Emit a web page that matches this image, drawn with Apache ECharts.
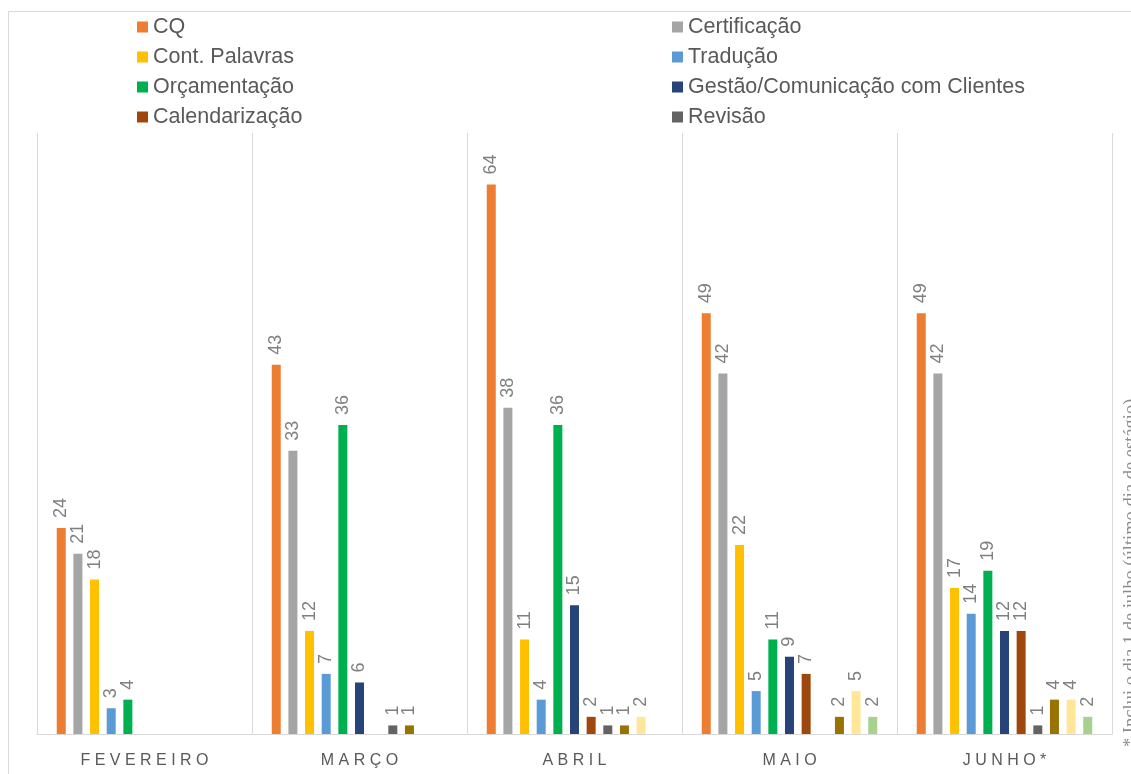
<!DOCTYPE html>
<html>
<head>
<meta charset="utf-8">
<script src="https://cdn.jsdelivr.net/npm/echarts@6/dist/echarts.min.js"></script>
<style>
  html, body { margin: 0; padding: 0; background: #fff; }
  #chart { width: 1131px; height: 774px; }
</style>
</head>
<body>
<div id="chart"></div>
<script>
// Months shown on the category axis
const months = ['FEVEREIRO', 'MARÇO', 'ABRIL', 'MAIO', 'JUNHO*'];

// Task counts per month (null = no entries that month)
const cq            = [24, 43, 64, 49, 49];
const certificacao  = [21, 33, 38, 42, 42];
const contPalavras  = [18, 12, 11, 22, 17];
const traducao      = [3, 7, 4, 5, 14];
const orcamentacao  = [4, 36, 36, 11, 19];
const gestao        = [null, 6, 15, 9, 12];
const calendarizacao= [null, null, 2, 7, 12];
const revisao       = [null, 1, 1, null, 1];
const outrosA       = [null, 1, 1, 2, 4];
const outrosB       = [null, null, 2, 5, 4];
const outrosC       = [null, null, null, 2, 2];

const seriesDefs = [
  ['CQ', cq, '#ED7D31'],
  ['Certificação', certificacao, '#A5A5A5'],
  ['Cont. Palavras', contPalavras, '#FFC000'],
  ['Tradução', traducao, '#5B9BD5'],
  ['Orçamentação', orcamentacao, '#00B050'],
  ['Gestão/Comunicação com Clientes', gestao, '#264478'],
  ['Calendarização', calendarizacao, '#9E480E'],
  ['Revisão', revisao, '#636363'],
  ['Outros A', outrosA, '#997300'],
  ['Outros B', outrosB, '#FFE699'],
  ['Outros C', outrosC, '#A9D18E']
];

const legendLeft  = ['CQ', 'Cont. Palavras', 'Orçamentação', 'Calendarização'];
const legendRight = ['Certificação', 'Tradução', 'Gestão/Comunicação com Clientes', 'Revisão'];

const footnote = '* Inclui o dia 1 de julho (último dia de estágio)';

const chart = echarts.init(document.getElementById('chart'), null, { renderer: 'canvas' });

const legendText = { fontFamily: 'Liberation Sans', fontSize: 21.5, color: '#595959' };

const legendBase = {
  orient: 'vertical', top: 16, itemGap: 8, padding: 0,
  itemWidth: 11, itemHeight: 11, icon: 'rect',
  textStyle: legendText, selectedMode: false
};

const option = {
  animation: false,
  backgroundColor: '#fff',
  legend: [
    Object.assign({ left: 137, data: legendLeft }, legendBase),
    Object.assign({ left: 672, data: legendRight }, legendBase)
  ],
  grid: { left: 37, right: 19, top: 133, bottom: 40, containLabel: false },
  xAxis: {
    type: 'category',
    data: months,
    boundaryGap: true,
    axisLine: { show: true, lineStyle: { color: '#D9D9D9', width: 1 } },
    axisTick: { show: false },
    splitLine: { show: true, lineStyle: { color: '#D9D9D9', width: 1 } },
    axisLabel: {
      margin: 19,
      fontFamily: 'Liberation Sans',
      fontSize: 16,
      color: '#595959',
      formatter: v => v.split('').join(' ')
    }
  },
  yAxis: {
    type: 'value', min: 0, max: 70,
    show: false,
    splitLine: { show: false }
  },
  series: seriesDefs.map(([name, values, color]) => ({
    name,
    type: 'bar',
    data: values,
    barWidth: 9,
    barGap: '85%',
    itemStyle: { color },
    label: {
      show: true,
      position: 'top',
      rotate: 90,
      align: 'left',
      verticalAlign: 'middle',
      distance: 10,
      fontFamily: 'Liberation Sans',
      fontSize: 18,
      color: '#7F7F7F',
      formatter: p => (p.value == null ? '' : p.value)
    }
  })),
  graphic: [
    {
      type: 'rect',
      shape: { x: 8.5, y: 11.5, width: 1300, height: 1000 },
      style: { fill: 'none', stroke: '#D9D9D9', lineWidth: 1 },
      silent: true
    },
    {
      type: 'text',
      x: 1131, y: 747,
      rotation: Math.PI / 2,
      style: {
        text: footnote,
        font: '18.5px "Liberation Serif"',
        fill: '#8C8C8C',
        align: 'left',
        verticalAlign: 'middle'
      },
      silent: true
    }
  ]
};

chart.setOption(option);
</script>
</body>
</html>
